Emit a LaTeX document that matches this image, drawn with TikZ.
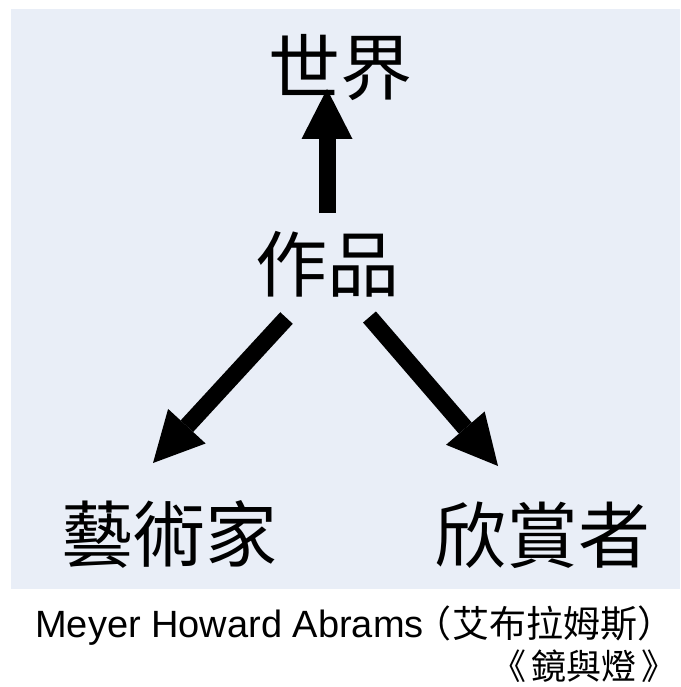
\documentclass[tikz,border=0pt]{standalone}
\usepackage{fontspec}
\setmainfont{Liberation Sans}
\newfontfamily\cjk{Noto Sans CJK TC}
\newfontfamily\cjkcap[RawFeature=+palt]{Noto Sans CJK TC}
\usetikzlibrary{
  arrows.meta,
  calc,
  positioning,
}
\tikzstyle{thickarrow} = [
  -{Triangle[length=50pt,width=51pt,line width=0pt]},
  line width=17pt,
  black,
]
\tikzstyle{term} = [
  inner sep=0pt,
  font=\cjk\fontsize{72}{80}\selectfont,
]
\definecolor{panelblue}{RGB}{233,238,247}

\begin{document}
\begin{tikzpicture}[x=1pt,y=-1pt]

        \useasboundingbox (0,0) rectangle (680,687);
        \fill[panelblue] (11,9) rectangle (680,589);

        \node[term] (work) at (327,264) {作品};
        \node[term] (world) at (340,68) {世界};
        \node[term] (artist) at (169,534) {藝術家};
        \node[term] (audience) at (542,535) {欣賞者};

        \node[inner sep=0pt,anchor=base east,font=\fontsize{38}{44}\selectfont] (author) at (658,637)
          {Meyer Howard Abrams{\cjkcap\fontsize{37}{44}\selectfont\kern8pt（\kern2pt艾布拉姆斯\kern2pt）}};
        \node[inner sep=0pt,anchor=base east,font=\cjkcap\fontsize{35}{40}\selectfont] (book) at (660,679)
          {《\kern6pt鏡與燈\kern6pt》};

        \draw[thickarrow] ($(work.center)+(0,-51)$) -- ($(work.center |- world.center)+(0,21)$);
        \draw[thickarrow] ($(work.center)+(-40.5,54)$) -- ($(artist.center)+(-16,-71)$);
        \draw[thickarrow] ($(work.center)+(42.5,53)$) -- ($(audience.center)+(-44,-69)$);

        \end{tikzpicture}
\end{document}
